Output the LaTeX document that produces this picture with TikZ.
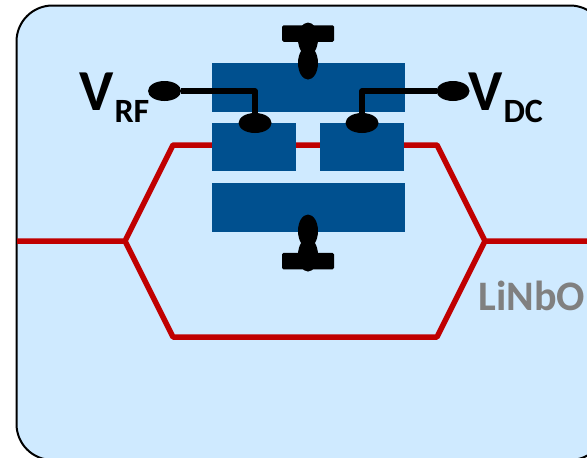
\documentclass[tikz,border=0pt]{standalone}
\usepackage{fontspec}
\setmainfont{Carlito}
\usetikzlibrary{positioning,calc,shapes.geometric}
\definecolor{chipblue}{HTML}{CFEAFF}
\definecolor{padblue}{HTML}{00508F}
\definecolor{guidered}{HTML}{C00000}
\tikzset{
    every node/.style={inner sep=0pt, outer sep=0pt},
    chip/.style={draw=black, fill=chipblue, line width=2pt, rounded corners=36pt},
    guide/.style={draw=guidered, line width=5.5pt, line join=round},
    electrode/.style={fill=padblue, minimum height=48.5pt},
    widepad/.style={electrode, minimum width=193pt},
    smallpad/.style={electrode, minimum width=84pt},
    wire/.style={draw=black, line width=5.2pt, line join=round},
    contact/.style={fill=black, ellipse, minimum width=33pt, minimum height=20pt},
    contactv/.style={fill=black, ellipse, minimum width=20pt, minimum height=33pt},
    gndbar/.style={fill=black, rounded corners=1.5pt, minimum width=52pt, minimum height=16.5pt},
    vlabel/.style={font=\bfseries\fontsize{58}{58}\selectfont, text=black},
    vsub/.style={font=\bfseries\fontsize{34}{34}\selectfont, text=black},
    material/.style={font=\bfseries\fontsize{42}{42}\selectfont, text=black!50},
}
\begin{document}
\begin{tikzpicture}[x=1pt,y=-1pt]
\useasboundingbox (0,0) rectangle (587,458);
\clip (0,0) rectangle (587,458);
\draw[chip] (16.5,5.5) rectangle (606,460);
% waveguide
\coordinate (in) at (17,241);
\coordinate (out) at (587,241);
\coordinate (split) at (125,241);
\coordinate (merge) at (485,241);
\coordinate (ul) at (173,145);
\coordinate (ur) at (437,145);
\coordinate (ll) at (173,337);
\coordinate (lr) at (437,337);
\draw[guide] (in) -- (split) -- (ul) -- (ur) -- (merge) -- (out);
\draw[guide] (split) -- (ll) -- (lr) -- (merge);
% electrodes
\node[smallpad] (left) at (254,147) {};
\node[smallpad,right=24pt of left] (right) {};
\node[widepad,anchor=south west] (top) at ($(left.north west)+(0,-11)$) {};
\node[widepad,anchor=north west] (bottom) at ($(left.south west)+(0,12)$) {};
% contacts
\node[contact] (cleft) at (255,123) {};
\node[contact] (cright) at (362,123) {};
\node[contact] (rf) at (164.5,91) {};
\node[contact] (dc) at (453,91) {};
\draw[wire] (rf) -| (cleft);
\draw[wire] (dc) -| (cright);
\node[gndbar] (gtop) at (308,33.5) {};
\node[contactv] (t1) at (308,39) {};
\node[contactv] (t2) at (308,63) {};
\node[gndbar] (gbot) at (308,261) {};
\node[contactv] (b1) at (308,255) {};
\node[contactv] (b2) at (308,231) {};
% labels
\node[vlabel,anchor=base west] (vrf) at (79,110) {V};
\node[vsub,anchor=base west] (vrfsub) at (114.5,122) {RF};
\node[vlabel,anchor=base west] (vdc) at (468.5,110) {V};
\node[vsub,anchor=base west] (vdcsub) at (503.5,122) {DC};
\node[material,anchor=base west] (linbo) at (478.5,310) {LiNbO};
\end{tikzpicture}
\end{document}
